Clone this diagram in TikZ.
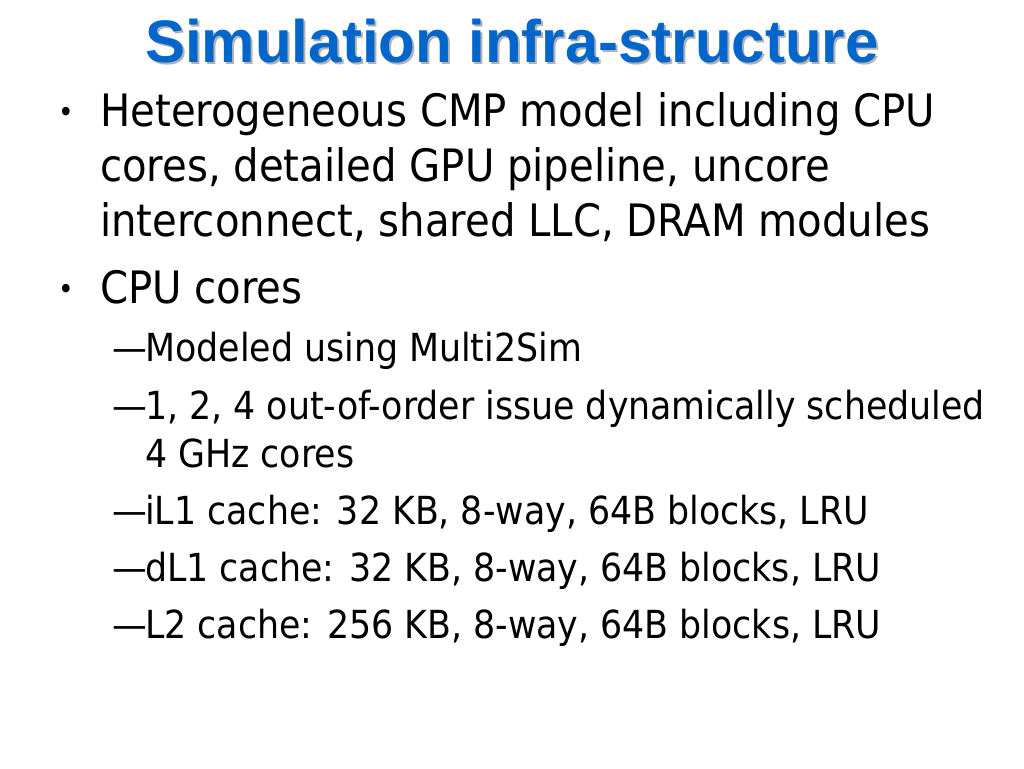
\documentclass[tikz,border=0pt]{standalone}
\usepackage{fontspec}
\setmainfont{DejaVu Sans Condensed}
\newfontfamily\titlefont{Liberation Sans}
\definecolor{titleblue}{RGB}{0,102,204}
\begin{document}
\begin{tikzpicture}[x=0.75pt,y=-0.75pt,
  every node/.style={inner sep=0pt,anchor=base west},
  lvl1/.style={font=\fontsize{33.5}{38}\selectfont},
  bul/.style={font=\fontsize{22}{26}\selectfont},
  lvl2/.style={font=\fontsize{29}{34}\selectfont},
  ttl/.style={font=\titlefont\bfseries\fontsize{45}{50}\selectfont,anchor=base}]
\useasboundingbox (0,0) rectangle (1024,768);
\node[ttl,text=gray!60] (tsh) at (514,64) {Simulation infra-structure};
\node[ttl,text=titleblue] (t) at (512,62) {Simulation infra-structure};
\node[bul] (b1) at (58,122) {•};
\node[lvl1] (l1) at (100,126) {Heterogeneous CMP model including CPU};
\node[lvl1] (l2) at (100,181) {cores, detailed GPU pipeline, uncore};
\node[lvl1] (l3) at (100,236) {interconnect, shared LLC, DRAM modules};
\node[bul] (b2) at (58,299) {•};
\node[lvl1] (l4) at (100,303) {CPU cores};
\foreach \y/\t [count=\i] in {361/Modeled using Multi2Sim,419/{1, 2, 4 out-of-order issue dynamically scheduled},524/{iL1 cache: 32 KB, 8-way, 64B blocks, LRU},581/{dL1 cache: 32 KB, 8-way, 64B blocks, LRU},638/{L2 cache: 256 KB, 8-way, 64B blocks, LRU}}{
  \node[lvl2] (d\i) at (112,\y) {—};
  \node[lvl2] (s\i) at (145,\y) {\t};
}
\node[lvl2] (s6) at (145,467) {4 GHz cores};
\end{tikzpicture}
\end{document}
